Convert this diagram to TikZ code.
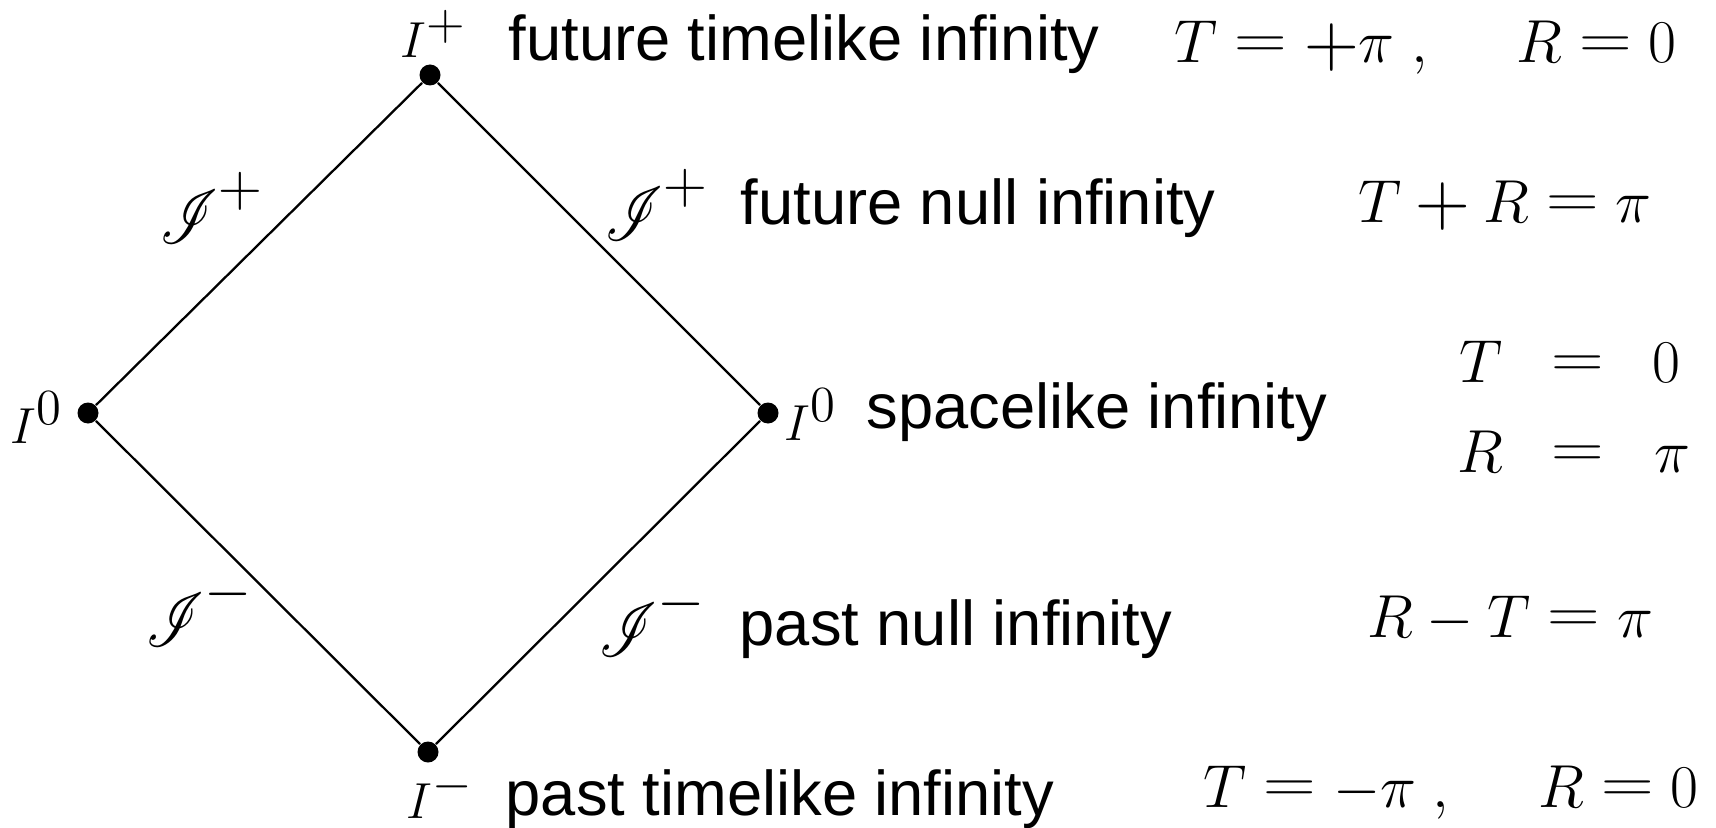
\documentclass[tikz,border=0pt]{standalone}
\usepackage[no-math]{fontspec}
\setmainfont{Liberation Sans}
\usepackage{mathrsfs}
\usepackage{graphicx}
\newcommand\myeq{\mathrel{\vcenter{\hbox{\scalebox{1.2}[1]{$=$}}}}}
\newcommand\myplus{\mathbin{\vcenter{\hbox{\scalebox{1.25}{$+$}}}}}
\newcommand\myplusu{\mathord{\vcenter{\hbox{\scalebox{1.25}{$+$}}}}}
\newcommand\myscri{\mathord{\raisebox{-0.12em}{\scalebox{0.95}[1.25]{$\mathscr{I}$}}}}
\begin{document}
\begin{tikzpicture}[x=0.1mm,y=-0.1mm,
  dot/.style={circle,fill=black,inner sep=0pt,minimum size=2.1mm},
  edge/.style={line width=0.65pt},
  lbl/.style={inner sep=0pt,anchor=base west,font=\fontsize{18}{20}\selectfont},
  mth/.style={inner sep=0pt,anchor=base west,font=\fontsize{16}{18}\selectfont},
  inf/.style={inner sep=0pt,anchor=base west,font=\fontsize{13.7}{16}\selectfont},
  scri/.style={inner sep=0pt,anchor=center,font=\fontsize{16.5}{18}\selectfont}]
\useasboundingbox (0,0) rectangle (1716,828);
% vertices
\node[dot] (top) at (430,75) {};
\node[dot] (left) at (88,413) {};
\node[dot] (right) at (768,413) {};
\node[dot] (bot) at (428,752) {};
\draw[edge] (top) -- (left);
\draw[edge] (left) -- (bot);
\draw[edge] (bot) -- (right);
\draw[edge] (right) -- (top);
% point labels
\node[inf] (ip) at (400,58) {$I^{\textstyle +}$};
\node[inf] (i0l) at (10,443) {$I^{\textstyle 0}$};
\node[inf] (i0r) at (784,440) {$I^{\textstyle 0}$};
\node[inf] (im) at (406,818) {$I^{\textstyle -}$};
% scri labels
\node[scri] (sl1) at (212,208) {$\myscri^{\textstyle +}$};
\node[scri] (sr1) at (657,205) {$\myscri^{\textstyle +}$};
\node[scri] (sl2) at (200,610) {$\myscri^{\textstyle -}$};
\node[scri] (sr2) at (653,620) {$\myscri^{\textstyle -}$};
% descriptions
\node[lbl] (d1) at (508,61) {future timelike infinity};
\node[lbl] (d2) at (740,224) {future null infinity};
\node[lbl] (d3) at (866,428) {spacelike infinity};
\node[lbl] (d4) at (739,645) {past null infinity};
\node[lbl] (d5) at (505,815) {past timelike infinity};
% equations
\node[mth] (e1) at (1174,63) {$T \myeq \myplusu\pi\;,\hskip1.4em R \myeq 0$};
\node[mth] (e2) at (1358,222) {$T \myplus R \myeq \pi$};
\node[mth] (e3a) at (1459,382) {$T$};
\node[mth,anchor=base] (e3b) at (1578,382) {$\myeq$};
\node[mth] (e3c) at (1652,382) {$0$};
\node[mth] (e4a) at (1457,472) {$R$};
\node[mth,anchor=base] (e4b) at (1578,472) {$\myeq$};
\node[mth] (e4c) at (1654,472) {$\pi$};
\node[mth] (e5) at (1367,637) {$R - T \myeq \pi$};
\node[mth] (e6) at (1203,807) {$T \myeq -\pi\;,\hskip1.4em R \myeq 0$};
\end{tikzpicture}
\end{document}
